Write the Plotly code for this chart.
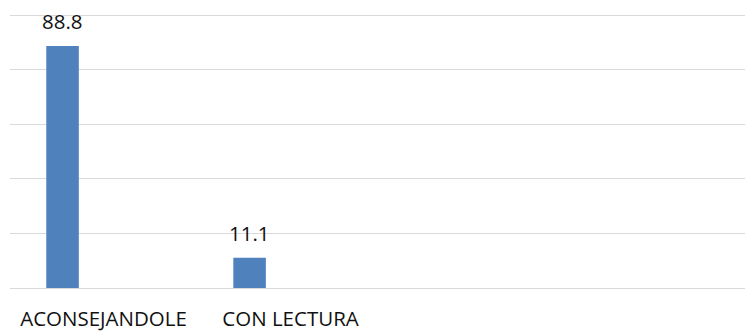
import plotly.graph_objects as go

# Survey answers and their percentages
categories = ["ACONSEJANDOLE", "CON LECTURA"]
values = [88.8, 11.1]
value_labels = ["88.8", "11.1"]

BAR_COLOR = "#4f81bd"
GRID_COLOR = "#d9d9d9"
TEXT_COLOR = "#111111"
FONT = "Open Sans, Liberation Sans, sans-serif"

fig = go.Figure()
fig.add_trace(go.Bar(
    x=categories,
    y=values,
    marker=dict(color=BAR_COLOR, line=dict(width=0)),
    width=0.174,
    offset=-0.306,
    hoverinfo="x+y",
))

# value labels above each bar
for cat, val, lab in zip(categories, values, value_labels):
    fig.add_annotation(
        x=cat, y=val, text=lab, showarrow=False,
        xanchor="center", yanchor="bottom",
        xshift=-41, yshift=9,
        font=dict(family=FONT, size=20.5, color=TEXT_COLOR),
    )

fig.update_layout(
    width=745, height=331,
    margin=dict(l=10, r=0, t=10, b=43),
    paper_bgcolor="white", plot_bgcolor="white",
    showlegend=False,
    font=dict(family=FONT, size=20.5, color=TEXT_COLOR),
)
fig.update_xaxes(
    type="category",
    range=[-0.5, 3.43],
    showgrid=False, showline=False, zeroline=False,
    ticks="", ticklabelstandoff=16,
    tickfont=dict(family=FONT, size=20.5, color=TEXT_COLOR),
)
fig.update_yaxes(
    range=[0, 102],
    tickvals=[0, 20, 40, 60, 80, 100],
    showgrid=True, gridcolor=GRID_COLOR, gridwidth=1.3,
    zeroline=True, zerolinecolor=GRID_COLOR, zerolinewidth=1.3,
    showline=False,
    showticklabels=False, ticks="",
)

fig.write_html("out.html")
